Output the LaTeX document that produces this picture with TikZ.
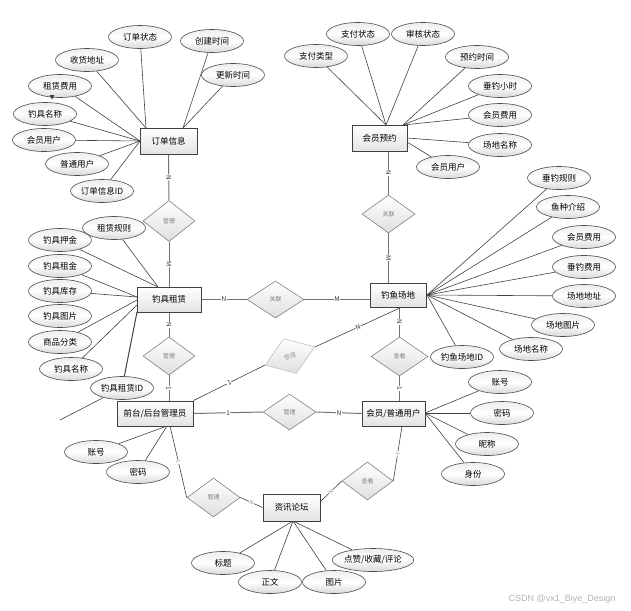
\documentclass[tikz,border=0pt]{standalone}
\usepackage{fontspec}
\setmainfont{Noto Sans CJK SC}
\newfontfamily\wmfont{Liberation Sans}
\usetikzlibrary{shapes.geometric,shadows,backgrounds,calc}
\tikzset{
 attr/.style={ellipse, draw=black!70, line width=0.6pt, top color=gray!14, bottom color=gray!30, middle color=white, minimum width=63pt, minimum height=23pt, inner sep=0pt, font=\fontsize{8.5}{9}\selectfont},
 ent/.style={rectangle, draw=black!75, line width=0.9pt, top color=white, bottom color=gray!22, inner sep=0pt, font=\fontsize{8.5}{9}\selectfont, drop shadow={shadow xshift=0.8pt, shadow yshift=-0.8pt, opacity=0.35, fill=black}},
 rel/.style={diamond, draw=black!50, line width=0.6pt, top color=white, bottom color=gray!25, inner sep=0pt, font=\fontsize{6}{6}\selectfont, text=black!50},
 al/.style={draw=black!75, line width=0.6pt},
 rl/.style={draw=black!55, line width=1pt},
 lab/.style={font=\fontsize{6.5}{7}\selectfont, fill=white, inner sep=0.6pt, sloped, text=black!80}
}
\begin{document}
\begin{tikzpicture}[x=1pt,y=-1pt]
\useasboundingbox (0,0) rectangle (631,610);
% entities
\node[ent, minimum width=57pt, minimum height=26pt] (dd) at (168.5,141) {订单信息};
\node[ent, minimum width=55pt, minimum height=26pt] (yy) at (379.5,138) {会员预约};
\node[ent, minimum width=64pt, minimum height=25pt] (zl) at (169,299.5) {钓具租赁};
\node[ent, minimum width=56pt, minimum height=24pt] (cd) at (398,295) {钓鱼场地};
\node[ent, minimum width=76pt, minimum height=25pt] (gl) at (155,413.5) {前台/后台管理员};
\node[ent, minimum width=63pt, minimum height=25pt] (hy) at (393.5,413.5) {会员/普通用户};
\node[ent, minimum width=57pt, minimum height=27pt] (lt) at (291.5,507.5) {资讯论坛};
% relations
\node[rel, minimum width=52pt, minimum height=41pt] (r1) at (169,221) {管理};
\node[rel, minimum width=52pt, minimum height=38pt] (r2) at (169,356) {管理};
\node[rel, minimum width=57pt, minimum height=37pt] (r3) at (275.5,299.5) {关联};
\node[rel, minimum width=53pt, minimum height=37pt, rotate=20, draw=black!25, text=black!40] (r4) at (290,356) {管理};
\node[rel, minimum width=57pt, minimum height=39pt] (r5) at (399.5,356.5) {查看};
\node[rel, minimum width=53pt, minimum height=36pt] (r6) at (289.5,412) {管理};
\node[rel, minimum width=53pt, minimum height=38pt] (r7) at (388.5,214) {关联};
\node[rel, minimum width=53pt, minimum height=39pt] (r8) at (213.5,497.5) {管理};
\node[rel, minimum width=51pt, minimum height=38pt] (r9) at (367.5,481) {查看};
% attributes of 订单信息
\node[attr] (e1) at (140,37) {订单状态};
\node[attr] (e2) at (212,41) {创建时间};
\node[attr] (e3) at (87,60) {收货地址};
\node[attr] (e4) at (233,75) {更新时间};
\node[attr] (e5) at (60,86) {租赁费用};
\node[attr] (e6) at (45,114) {钓具名称};
\node[attr] (e7) at (44,140) {会员用户};
\node[attr] (e8) at (77,164) {普通用户};
\node[attr] (e9) at (102,191) {订单信息ID};
% attributes of 会员预约
\node[attr] (f1) at (358,34) {支付状态};
\node[attr] (f2) at (423,34) {审核状态};
\node[attr] (f3) at (316,56) {支付类型};
\node[attr] (f4) at (477,57) {预约时间};
\node[attr] (f5) at (500,86) {垂钓小时};
\node[attr] (f6) at (500,115) {会员费用};
\node[attr] (f7) at (500,145) {场地名称};
\node[attr] (f8) at (448,167) {会员用户};
% attributes of 钓鱼场地
\node[attr] (g1) at (559,178) {垂钓规则};
\node[attr] (g2) at (568,207) {鱼种介绍};
\node[attr] (g3) at (584,237) {会员费用};
\node[attr] (g4) at (584,267) {垂钓费用};
\node[attr] (g5) at (584,296) {场地地址};
\node[attr] (g6) at (563,325) {场地图片};
\node[attr] (g7) at (531,349) {场地名称};
\node[attr] (g8) at (462,357) {钓鱼场地ID};
% attributes of 钓具租赁
\node[attr] (h2) at (60,240) {钓具押金};
\node[attr] (h1) at (114,228) {租赁规则};
\node[attr] (h3) at (60,266) {钓具租金};
\node[attr] (h4) at (60,291) {钓具库存};
\node[attr] (h5) at (60,316) {钓具图片};
\node[attr] (h6) at (60,342) {商品分类};
\node[attr] (h7) at (71,369) {钓具名称};
\node[attr] (h8) at (122,388) {钓具租赁ID};
% attributes of 前台/后台管理员
\node[attr] (i1) at (96,452) {账号};
\node[attr] (i2) at (138,472) {密码};
% attributes of 会员/普通用户
\node[attr] (j1) at (500,382) {账号};
\node[attr] (j2) at (502,413) {密码};
\node[attr] (j3) at (487,444) {昵称};
\node[attr] (j4) at (473,474) {身份};
% attributes of 资讯论坛
\node[attr] (k1) at (223,563) {标题};
\node[attr] (k2) at (270,582) {正文};
\node[attr] (k4) at (373,560) {点赞/收藏/评论};
\node[attr] (k3) at (334,582) {图片};
% watermark
\node[font=\wmfont\fontsize{9}{10}\selectfont, text=black!30, inner sep=0pt] (wm) at (562,599) {CSDN @vx1\_Biye\_Design};
% convergence points
\coordinate (ddt1) at (146,128);
\coordinate (ddt2) at (183,128);
\coordinate (ddl) at (140,141);
\coordinate (yyt1) at (386,125);
\coordinate (yyt2) at (403,125);
\coordinate (yyr1) at (407,138);
\coordinate (yyr2) at (407,142);
\coordinate (cdr) at (427,295);
\coordinate (zlt) at (158,287);
\coordinate (zll1) at (137,297);
\coordinate (zll2) at (137,300);
\coordinate (zll3) at (137,305);
\coordinate (zlbl) at (137,312);
\coordinate (dang) at (60,420);
\coordinate (glb) at (167,426);
\coordinate (glb2) at (170,426);
\coordinate (hyr) at (425,413);
\coordinate (hyb) at (402,426);
\coordinate (ltb) at (293,521);
\coordinate (ltr) at (320,502);
\begin{scope}[on background layer]
% attribute lines
\draw[al] (e1) -- (ddt1); \draw[al] (e3) -- (ddt1);
\draw[al] (e2) -- (ddt2); \draw[al] (e4) -- (ddt2);
\foreach \n in {e5,e6,e7,e8,e9} \draw[al] (\n) -- (ddl);
\foreach \n in {f1,f2,f3} \draw[al] (\n) -- (yyt1);
\foreach \n in {f4,f5,f6} \draw[al] (\n) -- (yyt2);
\draw[al] (f7) -- (yyr1); \draw[al] (f8) -- (yyr2);
\foreach \n in {g1,g2,g3,g4,g5,g6,g7,g8} \draw[al] (\n) -- (cdr);
\draw[al] (h1) -- (zlt); \draw[al] (h2) -- (zlt);
\draw[al] (h3) -- (zll1); \draw[al] (h4) -- (zll1);
\draw[al] (h6) -- (zll2); \draw[al] (h7) -- (zll3);
\draw[al, line width=1pt] (h8) -- (zlbl);
\draw[al] (h8) -- (dang);
\draw[al] (i1) -- (glb); \draw[al] (i2) -- (glb);
\foreach \n in {j1,j2,j3,j4} \draw[al] (\n) -- (hyr);
\foreach \n in {k1,k2,k3,k4} \draw[al] (\n) -- (ltb);
% relationship lines
\draw[rl] (dd.south) -- node[lab]{N} (r1.north);
\draw[rl] (r1.south) -- node[lab]{M} (zl.north);
\draw[rl] (zl.south) -- node[lab]{N} (r2.north);
\draw[rl] (r2.south) -- node[lab]{1} (r2.south |- gl.north);
\draw[rl] (r7.north |- yy.south) -- node[lab]{N} (r7.north);
\draw[rl] (r7.south) -- node[lab]{M} (r7.south |- cd.north);
\draw[rl] (zl.east) -- node[lab]{N} (r3.west);
\draw[rl] (r3.east) -- node[lab]{M} (r3.east -| cd.west);
\draw[rl] (r5.north |- cd.south) -- node[lab]{N} (r5.north);
\draw[rl] (r5.south) -- node[lab]{1} (r5.south |- hy.north);
\draw[al] (gl.north east) -- node[lab]{1} (r4.west);
\draw[al] (r4.east) -- node[lab]{N} ($(cd.south)+(3,0)$);
\draw[rl] (gl.east) -- node[lab]{1} (r6.west);
\draw[rl] (r6.east) -- node[lab]{N} (hy.west);
\draw[al] (glb2) -- node[lab, font=\fontsize{5}{5}\selectfont, text=black!50]{1} (r8.west);
\draw[al] (r8.east) -- node[lab, font=\fontsize{5}{5}\selectfont, text=black!50]{N} (lt.west);
\draw[al] (hyb) -- node[lab, font=\fontsize{5}{5}\selectfont, text=black!50]{1} (r9.east);
\draw[al] (r9.west) -- node[lab, font=\fontsize{5}{5}\selectfont, text=black!50]{N} (ltr);
\end{scope}
% small arrow mark under 租赁费用
\fill[black!75] (49.5,95) -- (54.5,95) -- (52,99.5) -- cycle;
\end{tikzpicture}
\end{document}
